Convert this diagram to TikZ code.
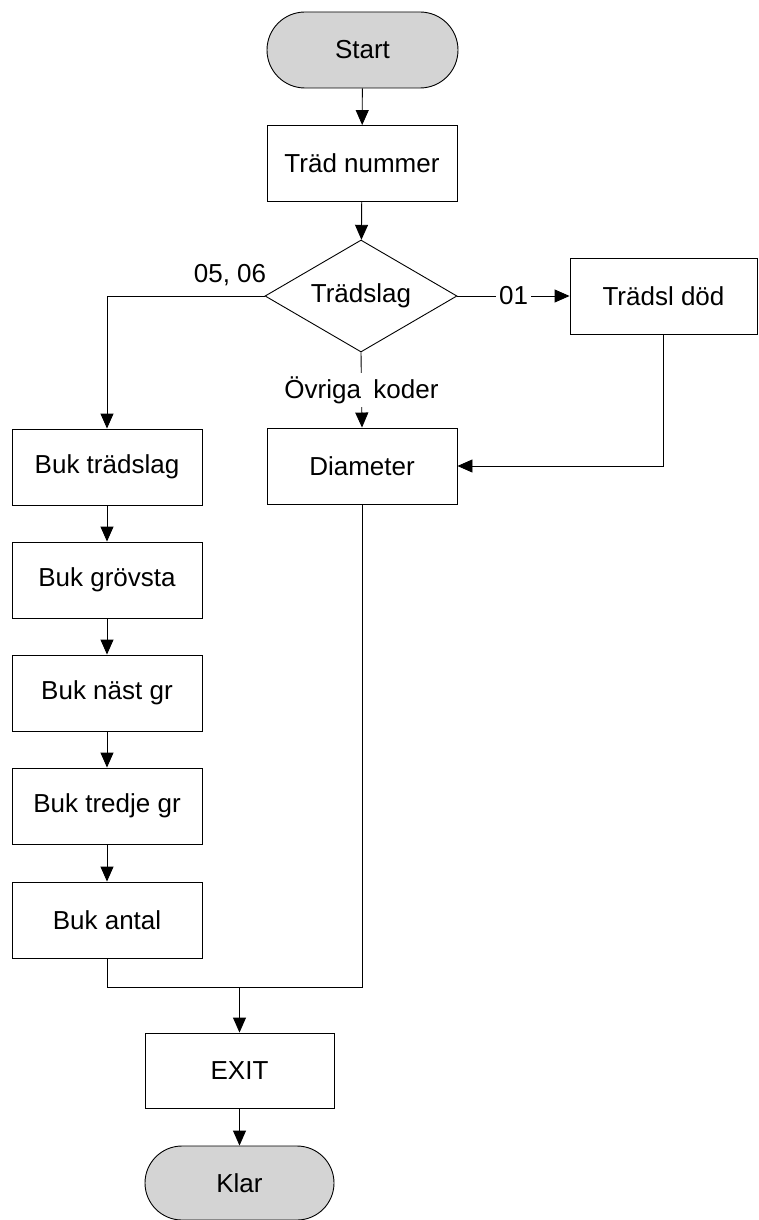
\documentclass[tikz,border=0pt]{standalone}
\usepackage{fontspec}
\setmainfont{Liberation Sans}
\usetikzlibrary{shapes.geometric,shapes.misc,arrows.meta}
\definecolor{termgray}{RGB}{212,212,212}
\begin{document}
\begin{tikzpicture}[x=1pt,y=-1pt,
  every node/.style={font=\fontsize{26}{30}\selectfont},
  box/.style={draw, rectangle, minimum width=190pt, minimum height=76pt, inner sep=0pt, line width=0.9pt},
  term/.style={draw, rounded rectangle, fill=termgray, minimum width=191pt, minimum height=76pt, inner sep=0pt, line width=0.9pt},
  dec/.style={draw, diamond, aspect=1.714, minimum width=192pt, minimum height=112pt, inner sep=0pt, line width=0.9pt},
  conn/.style={line width=0.9pt, -{Triangle[length=15pt,width=13pt]}},
  plain/.style={line width=0.9pt},
  lbl/.style={fill=white, inner sep=3pt}]
\useasboundingbox (0,0) rectangle (758,1220);
\node[term] (start) at (362.5,50) {Start};
\node[box] (num) at (362,163.5) {Träd nummer};
\node[dec] (dia) at (361,296) {Trädslag};
\node[box, minimum width=187pt] (dod) at (663.5,296) {Trädsl död};
\node[box] (diam) at (362,466) {Diameter};
\node[box] (bt) at (107,467) {Buk trädslag};
\node[box] (bg) at (107,580) {Buk grövsta};
\node[box] (bn) at (107,693) {Buk näst gr};
\node[box] (btr) at (107,806) {Buk tredje gr};
\node[box] (ba) at (107,920) {Buk antal};
\node[box, minimum width=189pt, minimum height=75pt] (exit) at (239.5,1070.5) {EXIT};
\node[term, minimum width=189pt, minimum height=74pt] (klar) at (239.5,1183) {Klar};
\coordinate (m) at (239.5,987);
\node (l0506) at (230,275) {05, 06};

\draw[conn] (start) -- (num);
\draw[conn] (num) -- (dia);
\draw[conn] (dia.west) -| (bt.north);
\draw[conn] (dia.east) -- node[lbl] (l01) {01} (dod.west);
\draw[conn] (dia.south) -- node[lbl] (lov) {Övriga\hspace{0.2em} koder} (diam.north);
\draw[conn] (dod.south) |- (diam.east);
\draw[conn] (bt) -- (bg);
\draw[conn] (bg) -- (bn);
\draw[conn] (bn) -- (btr);
\draw[conn] (btr) -- (ba);
\draw[plain] (ba.south) |- (m);
\draw[plain] (diam.south) |- (m);
\draw[conn] (m) -- (exit.north);
\draw[conn] (exit) -- (klar);
\end{tikzpicture}
\end{document}
